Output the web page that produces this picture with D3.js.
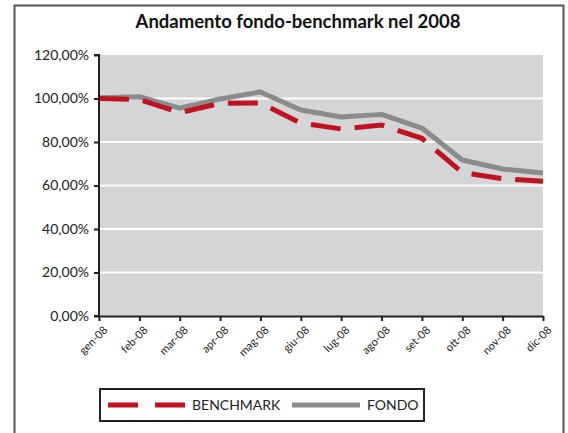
<!DOCTYPE html>
<html><head><meta charset="utf-8">
<script src="https://cdn.jsdelivr.net/npm/d3@7"></script>
<style>body{margin:0;background:#fff}svg{display:block}</style>
</head><body>
<svg id="c" width="568" height="433"></svg>
<script>
const months = ["gen-08","feb-08","mar-08","apr-08","mag-08","giu-08","lug-08","ago-08","set-08","ott-08","nov-08","dic-08"];
const benchmark = [100.0, 99.5, 93.5, 97.8, 98.0, 88.7, 86.0, 87.8, 81.7, 65.9, 63.1, 62.0];
const fondo = [100.4, 100.8, 95.6, 99.8, 103.0, 94.7, 91.5, 92.7, 86.4, 71.7, 67.6, 65.7];
const yTicks = [0, 20, 40, 60, 80, 100, 120];
const seriesNames = ["BENCHMARK", "FONDO"];

const svg = d3.select("#c");
const font = "Lato, 'Open Sans', sans-serif";
const L = 99, R = 543, T = 55, B = 316;

// outer frame (no bottom)
svg.append("path").attr("d", "M14.5,433 V5.5 H563.5 V433")
  .attr("fill","none").attr("stroke","#555").attr("stroke-width",2);

svg.append("text").attr("x", 298).attr("y", 28).attr("text-anchor","middle")
  .attr("font-family", font).attr("font-weight","bold").attr("font-size",18.5)
  .attr("fill","#111").text("Andamento fondo-benchmark nel 2008");

const x = d3.scalePoint().domain(months).range([L, R]);
const y = d3.scaleLinear().domain([0, 120]).range([B, T]);

svg.append("rect").attr("x", L).attr("y", T).attr("width", R - L).attr("height", B - T).attr("fill", "#d4d5d7");

svg.append("g").selectAll("line").data(yTicks.filter(d => d > 0 && d < 120)).join("line")
  .attr("x1", L).attr("x2", R).attr("y1", d => y(d)).attr("y2", d => y(d))
  .attr("stroke","#fff").attr("stroke-width",2);

const line = d3.line().x((d,i) => x(months[i])).y(d => y(d));

svg.append("path").datum(fondo).attr("d", line).attr("fill","none")
  .attr("stroke","#8a8b8d").attr("stroke-width",5).attr("stroke-linejoin","round");
svg.append("path").datum(benchmark).attr("d", line).attr("fill","none")
  .attr("stroke","#c0131f").attr("stroke-width",5).attr("stroke-dasharray","30,14");

const yAxis = svg.append("g").attr("transform", `translate(${L},0)`)
  .call(d3.axisLeft(y).tickValues(yTicks).tickSize(5).tickPadding(5)
    .tickFormat(d => d3.format(".2f")(d).replace(".", ",") + "%"));
yAxis.select(".domain").attr("stroke","#222").attr("stroke-width",2).attr("d", `M-5,${T}H0V${B}H-5`);
yAxis.selectAll(".tick line").attr("stroke","#222").attr("stroke-width",2);
yAxis.selectAll("text").attr("font-family", font).attr("font-size",14).attr("fill","#222");

const xAxis = svg.append("g").attr("transform", `translate(0,${B})`)
  .call(d3.axisBottom(x).tickSize(5).tickPadding(3).tickSizeOuter(0));
xAxis.select(".domain").attr("stroke","#222").attr("stroke-width",2);
xAxis.selectAll(".tick line").attr("stroke","#222").attr("stroke-width",2);
xAxis.selectAll("text").attr("font-family", font).attr("font-size",11).attr("fill","#222")
  .attr("text-anchor","end").attr("dy","0").attr("transform","translate(3,9) rotate(-45)");

// legend
const lg = svg.append("g");
lg.append("rect").attr("x",100).attr("y",389).attr("width",324).attr("height",32)
  .attr("fill","#fff").attr("stroke","#222").attr("stroke-width",2);
lg.append("line").attr("x1",108).attr("x2",186).attr("y1",405).attr("y2",405)
  .attr("stroke","#c0131f").attr("stroke-width",5).attr("stroke-dasharray","30,17");
lg.append("text").attr("x",192).attr("y",410).attr("font-family",font).attr("font-size",14)
  .attr("fill","#222").text(seriesNames[0]);
lg.append("line").attr("x1",292).attr("x2",360).attr("y1",405).attr("y2",405)
  .attr("stroke","#8a8b8d").attr("stroke-width",5);
lg.append("text").attr("x",367).attr("y",410).attr("font-family",font).attr("font-size",14)
  .attr("fill","#222").text(seriesNames[1]);
</script>
</body></html>
